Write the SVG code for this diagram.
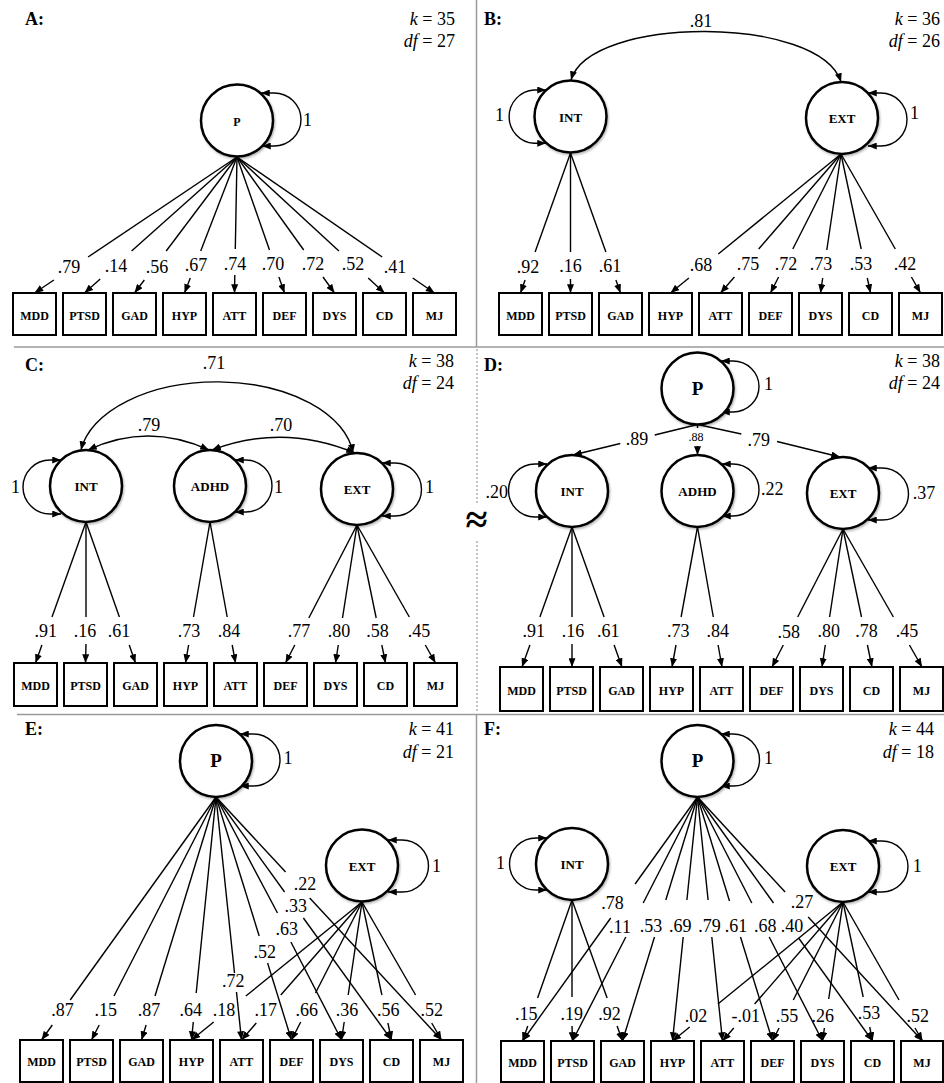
<svg xmlns="http://www.w3.org/2000/svg" width="944" height="1083" viewBox="0 0 944 1083">
<defs>
  <marker id="ah" viewBox="0 0 10 8" refX="10" refY="4" markerWidth="9" markerHeight="7" markerUnits="userSpaceOnUse" orient="auto-start-reverse">
    <path d="M0,0 L10,4 L0,8 z" fill="#000"/>
  </marker>
  <filter id="sh" x="-20%" y="-20%" width="140%" height="140%">
    <feDropShadow dx="1" dy="1.5" stdDeviation="1.2" flood-color="#000" flood-opacity="0.3"/>
  </filter>
</defs>
<style>
  .sep{stroke:#9a9a9a;stroke-width:1.5;fill:none}
  .dot{stroke:#9a9a9a;stroke-width:1.2;stroke-dasharray:2 2;fill:none}
  .lv circle{fill:#fff;stroke:#000;stroke-width:2.5;filter:url(#sh)}
  .ob rect{fill:#fff;stroke:#000;stroke-width:2}
  text{font-family:"Liberation Serif","Times New Roman",serif;fill:#000}
  .nl{font-weight:bold;font-size:13px;text-anchor:middle}
  .bl{font-weight:bold;font-size:12px;text-anchor:middle}
  .pl{font-weight:bold;font-size:19px;text-anchor:middle}
  .num{font-size:18px;text-anchor:middle}
  .st{font-size:18px}
  .en{font-size:18px;text-anchor:end}
  .sm{font-size:12px;text-anchor:middle}
  .ttl{font-weight:bold;font-size:18px}
  .fit{font-size:18px;text-anchor:end}
  .it{font-style:italic}
  .cn line,.cn path{stroke:#000;stroke-width:1.4;fill:none}
  .cn .a{marker-end:url(#ah)}
  .cn .d{marker-start:url(#ah);marker-end:url(#ah)}
</style>
<rect width="944" height="1083" fill="#fff"/>

<!-- panel separators -->
<g id="separators">
  <line class="sep" x1="476.5" y1="0" x2="476.5" y2="347"/>
  <line class="sep" x1="14" y1="347" x2="944" y2="347"/>
  <line class="dot" x1="477" y1="349" x2="477" y2="505"/>
  <line class="dot" x1="477" y1="541" x2="477" y2="713"/>
  <line class="sep" x1="17" y1="714.5" x2="944" y2="714.5"/>
  <line class="sep" x1="476.5" y1="715" x2="476.5" y2="1083"/>
  <text x="476.5" y="533" font-size="40" font-weight="bold" text-anchor="middle">≈</text>
</g>

<!-- titles and fit statistics -->
<g id="titles">
  <text class="ttl" x="25" y="25">A:</text>
  <text class="fit" x="455" y="25"><tspan class="it">k</tspan> = 35</text>
  <text class="fit" x="455" y="46.5"><tspan class="it">df</tspan> = 27</text>
  <text class="ttl" x="484" y="25">B:</text>
  <text class="fit" x="940" y="25"><tspan class="it">k</tspan> = 36</text>
  <text class="fit" x="940" y="46.5"><tspan class="it">df</tspan> = 26</text>
  <text class="ttl" x="25" y="371">C:</text>
  <text class="fit" x="454" y="367"><tspan class="it">k</tspan> = 38</text>
  <text class="fit" x="454" y="388.5"><tspan class="it">df</tspan> = 24</text>
  <text class="ttl" x="484" y="371">D:</text>
  <text class="fit" x="940" y="367"><tspan class="it">k</tspan> = 38</text>
  <text class="fit" x="940" y="388.5"><tspan class="it">df</tspan> = 24</text>
  <text class="ttl" x="25" y="735">E:</text>
  <text class="fit" x="454" y="735"><tspan class="it">k</tspan> = 41</text>
  <text class="fit" x="454" y="757.5"><tspan class="it">df</tspan> = 21</text>
  <text class="ttl" x="484" y="735">F:</text>
  <text class="fit" x="934" y="735"><tspan class="it">k</tspan> = 44</text>
  <text class="fit" x="934" y="758"><tspan class="it">df</tspan> = 18</text>
</g>

<!-- connectors: loadings, covariances and variances -->
<g id="connectors" class="cn">
  <g id="conn-a">
    <path class="d" d="M261 93 L274 93 A27 26.5 0 0 1 274 146 L262 146"/>
    <line x1="237" y1="157" x2="88.1" y2="257"/><line class="a" x1="53.9" y1="280" x2="34.5" y2="293"/>
    <line x1="237" y1="157" x2="131.6" y2="251"/><line class="a" x1="100.2" y1="279" x2="84.5" y2="293"/>
    <line x1="237" y1="157" x2="166.2" y2="251"/><line class="a" x1="144.3" y1="280" x2="134.5" y2="293"/>
    <line x1="237" y1="157" x2="200.7" y2="251"/><line class="a" x1="190.3" y1="278" x2="184.5" y2="293"/>
    <line x1="237" y1="157" x2="235.3" y2="249"/><line class="a" x1="234.8" y1="275" x2="234.5" y2="293"/>
    <line x1="237" y1="157" x2="269.5" y2="250"/><line class="a" x1="278.9" y1="277" x2="284.5" y2="293"/>
    <line x1="237" y1="157" x2="303.7" y2="250"/><line class="a" x1="323" y1="277" x2="334.5" y2="293"/>
    <line x1="237" y1="157" x2="338.9" y2="251"/><line class="a" x1="368.2" y1="278" x2="384.5" y2="293"/>
    <line x1="237" y1="157" x2="382.2" y2="257"/><line class="a" x1="412.7" y1="278" x2="434.5" y2="293"/>
  </g>
  <g id="conn-b">
    <path class="d" d="M571 80 C590 15 820 15 841 82"/>
    <path class="d" d="M546 90 L534 90 A26.5 26.7 0 0 0 534 143.3 L546 143.3"/>
    <path class="d" d="M868 93 L881 93 A26 26.5 0 0 1 881 146 L868 146"/>
    <line x1="570.5" y1="153" x2="535.1" y2="252"/><line class="a" x1="525.1" y1="280" x2="520.5" y2="293"/>
    <line x1="570.5" y1="153" x2="570.5" y2="252"/><line class="a" x1="570.5" y1="279" x2="570.5" y2="293"/>
    <line x1="570.5" y1="153" x2="605.9" y2="252"/><line class="a" x1="615.9" y1="280" x2="620.5" y2="293"/>
    <line x1="841" y1="154" x2="718.3" y2="254"/><line class="a" x1="688.9" y1="278" x2="670.5" y2="293"/>
    <line x1="841" y1="154" x2="758.7" y2="249"/><line class="a" x1="734.4" y1="277" x2="720.5" y2="293"/>
    <line x1="841" y1="154" x2="792.8" y2="249"/><line class="a" x1="778.6" y1="277" x2="770.5" y2="293"/>
    <line x1="841" y1="154" x2="826.8" y2="250"/><line class="a" x1="822.7" y1="278" x2="820.5" y2="293"/>
    <line x1="841" y1="154" x2="861.2" y2="249"/><line class="a" x1="867.3" y1="278" x2="870.5" y2="293"/>
    <line x1="841" y1="154" x2="895.3" y2="249"/><line class="a" x1="911.4" y1="277" x2="920.5" y2="293"/>
  </g>
  <g id="conn-c">
    <path class="d" d="M81 450 A137 79 0 0 1 353 453"/>
    <path class="d" d="M88 450 Q148 422 209 450"/>
    <path class="d" d="M212 450 Q283 423 355 453"/>
    <path class="d" d="M61 460 L50 460 A27 27 0 0 0 50 514 L61 514"/>
    <path class="d" d="M235 460 L246 460 A26 26 0 0 1 246 512 L235 512"/>
    <path class="d" d="M382 463 L395 463 A26.5 26.5 0 0 1 395 516 L382 516"/>
    <line x1="86" y1="522" x2="52" y2="617"/><line class="a" x1="41.9" y1="645" x2="35.5" y2="663"/>
    <line x1="86" y1="522" x2="86" y2="617"/><line class="a" x1="86" y1="644" x2="85.5" y2="663"/>
    <line x1="86" y1="522" x2="119.4" y2="617"/><line class="a" x1="129.2" y1="645" x2="135.5" y2="663"/>
    <line x1="210" y1="522" x2="193.5" y2="617"/><line class="a" x1="188.6" y1="645" x2="185.5" y2="663"/>
    <line x1="210" y1="522" x2="227.2" y2="617"/><line class="a" x1="232.2" y1="645" x2="235.5" y2="663"/>
    <line x1="357" y1="525" x2="308.8" y2="618"/><line class="a" x1="294.8" y1="645" x2="285.5" y2="663"/>
    <line x1="357" y1="525" x2="342.5" y2="618"/><line class="a" x1="338.3" y1="645" x2="335.5" y2="663"/>
    <line x1="357" y1="525" x2="376.2" y2="618"/><line class="a" x1="381.8" y1="645" x2="385.5" y2="663"/>
    <line x1="357" y1="525" x2="409.3" y2="617"/><line class="a" x1="425.3" y1="645" x2="435.5" y2="663"/>
  </g>
  <g id="conn-d">
    <path class="d" d="M721 361 L733 361 A26 25.5 0 0 1 733 412 L721 412"/>
    <path class="d" d="M547 464 L535 464 A26.5 26.5 0 0 0 535 517 L547 517"/>
    <path class="d" d="M722 464 L733 464 A26 26 0 0 1 733 516 L722 516"/>
    <path class="d" d="M868 468 L882 468 A26.5 26 0 0 1 882 520 L868 520"/>
    <line x1="697.5" y1="424.5" x2="654.7" y2="435"/><line class="a" x1="620.3" y1="443.5" x2="573" y2="455"/>
    <line x1="697.5" y1="424.5" x2="697.5" y2="428"/><line class="a" x1="697.5" y1="446" x2="697.5" y2="455"/>
    <line x1="697.5" y1="424.5" x2="741.3" y2="434"/><line class="a" x1="777" y1="441.5" x2="840" y2="457"/>
    <line x1="572" y1="527" x2="539.9" y2="617"/><line class="a" x1="529.9" y1="645" x2="522" y2="667"/>
    <line x1="572" y1="527" x2="572" y2="617"/><line class="a" x1="572" y1="644" x2="572" y2="667"/>
    <line x1="572" y1="527" x2="604.1" y2="617"/><line class="a" x1="614.1" y1="645" x2="622" y2="667"/>
    <line x1="697.5" y1="527" x2="681.1" y2="617"/><line class="a" x1="676" y1="645" x2="672" y2="667"/>
    <line x1="697.5" y1="527" x2="713.3" y2="617"/><line class="a" x1="718.1" y1="645" x2="722" y2="667"/>
    <line x1="843" y1="529" x2="797.7" y2="617"/><line class="a" x1="783.3" y1="645" x2="772" y2="667"/>
    <line x1="843" y1="529" x2="829.6" y2="617"/><line class="a" x1="825.3" y1="645" x2="822" y2="667"/>
    <line x1="843" y1="529" x2="861.5" y2="617"/><line class="a" x1="867.4" y1="645" x2="872" y2="667"/>
    <line x1="843" y1="529" x2="893.4" y2="617"/><line class="a" x1="909.4" y1="645" x2="922" y2="667"/>
  </g>
  <g id="conn-e">
    <path class="d" d="M240 734 L253 734 A27 26 0 0 1 253 786 L240 786"/>
    <path class="d" d="M388 840 L402 840 A26.5 26 0 0 1 402 892 L388 892"/>
    <line x1="216" y1="797" x2="70.2" y2="1000"/><line class="a" x1="52.3" y1="1025" x2="41.5" y2="1040"/>
    <line x1="216" y1="797" x2="114" y2="996"/><line class="a" x1="99.2" y1="1025" x2="91.5" y2="1040"/>
    <line x1="216" y1="797" x2="155" y2="996"/><line class="a" x1="146.1" y1="1025" x2="141.5" y2="1040"/>
    <line x1="216" y1="797" x2="196.2" y2="993"/><line class="a" x1="193.3" y1="1022" x2="191.5" y2="1040"/>
    <line x1="216" y1="797" x2="234.5" y2="973"/><line class="a" x1="236.5" y1="992" x2="241.5" y2="1040"/>
    <line x1="216" y1="797" x2="259.2" y2="936"/><line class="a" x1="267.6" y1="963" x2="291.5" y2="1040"/>
    <line x1="216" y1="797" x2="277.5" y2="913"/><line class="a" x1="290.9" y1="942" x2="341.5" y2="1040"/>
    <line x1="216" y1="797" x2="284.6" y2="892"/><line class="a" x1="303.4" y1="918" x2="391.5" y2="1040"/>
    <line x1="216" y1="797" x2="285.6" y2="872"/><line class="a" x1="309.7" y1="898" x2="441.5" y2="1040"/>
    <line x1="362" y1="902" x2="245.9" y2="996"/><line class="a" x1="213.7" y1="1022" x2="191.5" y2="1040"/>
    <line x1="362" y1="902" x2="280.8" y2="995"/><line class="a" x1="256.3" y1="1023" x2="241.5" y2="1040"/>
    <line x1="362" y1="902" x2="315.5" y2="993"/><line class="a" x1="300.7" y1="1022" x2="291.5" y2="1040"/>
    <line x1="362" y1="902" x2="348.2" y2="995"/><line class="a" x1="344.2" y1="1022" x2="341.5" y2="1040"/>
    <line x1="362" y1="902" x2="381.9" y2="995"/><line class="a" x1="387.9" y1="1023" x2="391.5" y2="1040"/>
    <line x1="362" y1="902" x2="415.6" y2="995"/><line class="a" x1="431.7" y1="1023" x2="441.5" y2="1040"/>
  </g>
  <g id="conn-f">
    <path class="d" d="M721 734 L733 734 A26.5 26 0 0 1 733 786 L721 786"/>
    <path class="d" d="M547 838 L536 838 A26.5 26 0 0 0 536 890 L547 890"/>
    <path class="d" d="M868 841 L882 841 A26 25.5 0 0 1 882 892 L868 892"/>
    <line x1="572" y1="900" x2="537.6" y2="998"/><line class="a" x1="527.8" y1="1026" x2="522.5" y2="1041"/>
    <line x1="572" y1="900" x2="572" y2="997"/><line class="a" x1="572" y1="1026" x2="572.5" y2="1041"/>
    <line x1="572" y1="900" x2="607.1" y2="998"/><line class="a" x1="617.1" y1="1026" x2="622.5" y2="1041"/>
    <line x1="697.5" y1="797" x2="635.1" y2="884"/><line class="a" x1="610.7" y1="918" x2="522.5" y2="1041"/>
    <line x1="697.5" y1="797" x2="643.2" y2="903"/><line class="a" x1="625.8" y1="937" x2="572.5" y2="1041"/>
    <line x1="697.5" y1="797" x2="665.8" y2="900"/><line class="a" x1="654.5" y1="937" x2="622.5" y2="1041"/>
    <line x1="697.5" y1="797" x2="686.9" y2="900"/><line class="a" x1="683.2" y1="937" x2="672.5" y2="1041"/>
    <line x1="697.5" y1="797" x2="708.1" y2="900"/><line class="a" x1="711.8" y1="937" x2="722.5" y2="1041"/>
    <line x1="697.5" y1="797" x2="729.5" y2="901"/><line class="a" x1="740.5" y1="937" x2="772.5" y2="1041"/>
    <line x1="697.5" y1="797" x2="751.8" y2="903"/><line class="a" x1="769.2" y1="937" x2="822.5" y2="1041"/>
    <line x1="697.5" y1="797" x2="773.5" y2="903"/><line class="a" x1="798.6" y1="938" x2="872.5" y2="1041"/>
    <line x1="697.5" y1="797" x2="785.1" y2="892"/><line class="a" x1="808.2" y1="917" x2="922.5" y2="1041"/>
    <line x1="843" y1="902" x2="717.9" y2="1004"/><line class="a" x1="689.7" y1="1027" x2="672.5" y2="1041"/>
    <line x1="843" y1="902" x2="754.6" y2="1004"/><line class="a" x1="733.8" y1="1028" x2="722.5" y2="1041"/>
    <line x1="843" y1="902" x2="793.3" y2="1000"/><line class="a" x1="779.1" y1="1028" x2="772.5" y2="1041"/>
    <line x1="843" y1="902" x2="828.7" y2="999"/><line class="a" x1="824.4" y1="1028" x2="822.5" y2="1041"/>
    <line x1="843" y1="902" x2="863.2" y2="997"/><line class="a" x1="869.7" y1="1027" x2="872.5" y2="1041"/>
    <line x1="843" y1="902" x2="899" y2="1000"/><line class="a" x1="915" y1="1028" x2="922.5" y2="1041"/>
  </g>
</g>

<!-- connector labels -->
<g id="edge-labels">
  <g id="lab-a">
    <text class="st" x="303" y="126">1</text>
    <text class="num" x="69" y="272.5">.79</text><text class="num" x="116" y="272">.14</text>
    <text class="num" x="157" y="272.5">.56</text><text class="num" x="196" y="271">.67</text>
    <text class="num" x="235" y="270">.74</text><text class="num" x="273" y="270">.70</text>
    <text class="num" x="313" y="270">.72</text><text class="num" x="353" y="270">.52</text>
    <text class="num" x="395" y="272.5">.41</text>
  </g>
  <g id="lab-b">
    <text class="num" x="701" y="26.5">.81</text>
    <text class="en" x="504" y="120.7">1</text>
    <text class="st" x="910" y="119.3">1</text>
    <text class="num" x="528" y="272.5">.92</text><text class="num" x="570.5" y="272">.16</text>
    <text class="num" x="610" y="272">.61</text><text class="num" x="701" y="271">.68</text>
    <text class="num" x="748" y="269.5">.75</text><text class="num" x="786" y="270">.72</text>
    <text class="num" x="821" y="270">.73</text><text class="num" x="861" y="270">.53</text>
    <text class="num" x="905" y="270">.42</text>
  </g>
  <g id="lab-c">
    <text class="num" x="214" y="368.5">.71</text>
    <text class="num" x="149" y="431">.79</text>
    <text class="num" x="281" y="431">.70</text>
    <text class="en" x="20" y="492.7">1</text>
    <text class="st" x="274" y="492.7">1</text>
    <text class="st" x="425" y="492.7">1</text>
    <text class="num" x="45.8" y="637">.91</text><text class="num" x="85" y="637">.16</text>
    <text class="num" x="119" y="637">.61</text><text class="num" x="189" y="637">.73</text>
    <text class="num" x="229" y="637">.84</text><text class="num" x="299" y="637">.77</text>
    <text class="num" x="339" y="637">.80</text><text class="num" x="377.5" y="637">.58</text>
    <text class="num" x="419" y="637">.45</text>
  </g>
  <g id="lab-d">
    <text class="st" x="764" y="390">1</text>
    <text class="num" x="637" y="445">.89</text>
    <text class="sm" x="696" y="440.5">.88</text>
    <text class="num" x="758.7" y="445.7">.79</text>
    <text class="en" x="508" y="498">.20</text>
    <text class="st" x="761" y="495">.22</text>
    <text class="st" x="912.7" y="499">.37</text>
    <text class="num" x="533.7" y="637">.91</text><text class="num" x="573" y="637">.16</text>
    <text class="num" x="608.3" y="637">.61</text><text class="num" x="678.3" y="637">.73</text>
    <text class="num" x="717.8" y="637">.84</text><text class="num" x="788.7" y="637.5">.58</text>
    <text class="num" x="828.7" y="637">.80</text><text class="num" x="866.5" y="637">.78</text>
    <text class="num" x="907" y="637">.45</text>
  </g>
  <g id="lab-e">
    <text class="st" x="283.5" y="764.3">1</text>
    <text class="st" x="432" y="871.7">1</text>
    <text class="num" x="305" y="890">.22</text>
    <text class="num" x="295.8" y="912.3">.33</text>
    <text class="num" x="286.8" y="935">.63</text>
    <text class="num" x="264.7" y="958.3">.52</text>
    <text class="num" x="233.3" y="986.7">.72</text>
    <text class="num" x="62.5" y="1016">.87</text><text class="num" x="105.8" y="1016">.15</text>
    <text class="num" x="149" y="1016">.87</text><text class="num" x="190.8" y="1016">.64</text>
    <text class="num" x="224" y="1016">.18</text><text class="num" x="265.8" y="1016">.17</text>
    <text class="num" x="306.7" y="1016">.66</text><text class="num" x="347" y="1016">.36</text>
    <text class="num" x="388.3" y="1016">.56</text><text class="num" x="431.7" y="1016">.52</text>
  </g>
  <g id="lab-f">
    <text class="st" x="764" y="764">1</text>
    <text class="en" x="505" y="869.3">1</text>
    <text class="st" x="912.7" y="871.7">1</text>
    <text class="num" x="612.5" y="909">.78</text>
    <text class="num" x="802" y="908.3">.27</text>
    <text class="num" x="620" y="932.5">.11</text><text class="num" x="651" y="931.7">.53</text>
    <text class="num" x="680.3" y="931.7">.69</text><text class="num" x="709.5" y="931.7">.79</text>
    <text class="num" x="736" y="931.7">.61</text><text class="num" x="765.3" y="931.7">.68</text>
    <text class="num" x="792" y="931.7">.40</text>
    <text class="num" x="526.2" y="1020">.15</text><text class="num" x="571.7" y="1020">.19</text>
    <text class="num" x="609.5" y="1020">.92</text><text class="num" x="696" y="1021.7">.02</text>
    <text class="num" x="745.8" y="1021.7">-.01</text><text class="num" x="787" y="1021.7">.55</text>
    <text class="num" x="822.8" y="1021.7">.26</text><text class="num" x="869" y="1019">.53</text>
    <text class="num" x="917.8" y="1021.7">.52</text>
  </g>
</g>

<!-- panel A nodes -->
<g id="a-P" class="lv"><circle cx="237" cy="120.5" r="36"/><text class="bl" x="237" y="125.5">P</text></g>
<g id="a-MDD" class="ob"><rect x="13" y="293" width="43" height="42"/><text class="bl" x="34.5" y="319.5">MDD</text></g>
<g id="a-PTSD" class="ob"><rect x="63" y="293" width="43" height="42"/><text class="bl" x="84.5" y="319.5">PTSD</text></g>
<g id="a-GAD" class="ob"><rect x="113" y="293" width="43" height="42"/><text class="bl" x="134.5" y="319.5">GAD</text></g>
<g id="a-HYP" class="ob"><rect x="163" y="293" width="43" height="42"/><text class="bl" x="184.5" y="319.5">HYP</text></g>
<g id="a-ATT" class="ob"><rect x="213" y="293" width="43" height="42"/><text class="bl" x="234.5" y="319.5">ATT</text></g>
<g id="a-DEF" class="ob"><rect x="263" y="293" width="43" height="42"/><text class="bl" x="284.5" y="319.5">DEF</text></g>
<g id="a-DYS" class="ob"><rect x="313" y="293" width="43" height="42"/><text class="bl" x="334.5" y="319.5">DYS</text></g>
<g id="a-CD" class="ob"><rect x="363" y="293" width="43" height="42"/><text class="bl" x="384.5" y="319.5">CD</text></g>
<g id="a-MJ" class="ob"><rect x="413" y="293" width="43" height="42"/><text class="bl" x="434.5" y="319.5">MJ</text></g>

<!-- panel B nodes -->
<g id="b-INT" class="lv"><circle cx="570.5" cy="116.5" r="36"/><text class="nl" x="570.5" y="121.5">INT</text></g>
<g id="b-EXT" class="lv"><circle cx="842" cy="118" r="36"/><text class="nl" x="842" y="123">EXT</text></g>
<g id="b-MDD" class="ob"><rect x="499" y="293" width="43" height="42"/><text class="bl" x="520.5" y="319.5">MDD</text></g>
<g id="b-PTSD" class="ob"><rect x="549" y="293" width="43" height="42"/><text class="bl" x="570.5" y="319.5">PTSD</text></g>
<g id="b-GAD" class="ob"><rect x="599" y="293" width="43" height="42"/><text class="bl" x="620.5" y="319.5">GAD</text></g>
<g id="b-HYP" class="ob"><rect x="649" y="293" width="43" height="42"/><text class="bl" x="670.5" y="319.5">HYP</text></g>
<g id="b-ATT" class="ob"><rect x="699" y="293" width="43" height="42"/><text class="bl" x="720.5" y="319.5">ATT</text></g>
<g id="b-DEF" class="ob"><rect x="749" y="293" width="43" height="42"/><text class="bl" x="770.5" y="319.5">DEF</text></g>
<g id="b-DYS" class="ob"><rect x="799" y="293" width="43" height="42"/><text class="bl" x="820.5" y="319.5">DYS</text></g>
<g id="b-CD" class="ob"><rect x="849" y="293" width="43" height="42"/><text class="bl" x="870.5" y="319.5">CD</text></g>
<g id="b-MJ" class="ob"><rect x="899" y="293" width="43" height="42"/><text class="bl" x="920.5" y="319.5">MJ</text></g>

<!-- panel C nodes -->
<g id="c-INT" class="lv"><circle cx="86" cy="486" r="36"/><text class="nl" x="86" y="491">INT</text></g>
<g id="c-ADHD" class="lv"><circle cx="210" cy="486" r="36"/><text class="nl" x="210" y="491">ADHD</text></g>
<g id="c-EXT" class="lv"><circle cx="357" cy="489" r="36"/><text class="nl" x="357" y="494">EXT</text></g>
<g id="c-MDD" class="ob"><rect x="14" y="663" width="43" height="43"/><text class="bl" x="35.5" y="689.5">MDD</text></g>
<g id="c-PTSD" class="ob"><rect x="64" y="663" width="43" height="43"/><text class="bl" x="85.5" y="689.5">PTSD</text></g>
<g id="c-GAD" class="ob"><rect x="114" y="663" width="43" height="43"/><text class="bl" x="135.5" y="689.5">GAD</text></g>
<g id="c-HYP" class="ob"><rect x="164" y="663" width="43" height="43"/><text class="bl" x="185.5" y="689.5">HYP</text></g>
<g id="c-ATT" class="ob"><rect x="214" y="663" width="43" height="43"/><text class="bl" x="235.5" y="689.5">ATT</text></g>
<g id="c-DEF" class="ob"><rect x="264" y="663" width="43" height="43"/><text class="bl" x="285.5" y="689.5">DEF</text></g>
<g id="c-DYS" class="ob"><rect x="314" y="663" width="43" height="43"/><text class="bl" x="335.5" y="689.5">DYS</text></g>
<g id="c-CD" class="ob"><rect x="364" y="663" width="43" height="43"/><text class="bl" x="385.5" y="689.5">CD</text></g>
<g id="c-MJ" class="ob"><rect x="414" y="663" width="43" height="43"/><text class="bl" x="435.5" y="689.5">MJ</text></g>

<!-- panel D nodes -->
<g id="d-P" class="lv"><circle cx="697.5" cy="388.5" r="36"/><text class="pl" x="697.5" y="395">P</text></g>
<g id="d-INT" class="lv"><circle cx="572" cy="491" r="36"/><text class="nl" x="572" y="496">INT</text></g>
<g id="d-ADHD" class="lv"><circle cx="697.5" cy="491" r="36"/><text class="nl" x="697.5" y="496">ADHD</text></g>
<g id="d-EXT" class="lv"><circle cx="843" cy="493" r="36"/><text class="nl" x="843" y="498">EXT</text></g>
<g id="d-MDD" class="ob"><rect x="500" y="667" width="43" height="44"/><text class="bl" x="521.5" y="694.5">MDD</text></g>
<g id="d-PTSD" class="ob"><rect x="550" y="667" width="43" height="44"/><text class="bl" x="571.5" y="694.5">PTSD</text></g>
<g id="d-GAD" class="ob"><rect x="600" y="667" width="43" height="44"/><text class="bl" x="621.5" y="694.5">GAD</text></g>
<g id="d-HYP" class="ob"><rect x="650" y="667" width="43" height="44"/><text class="bl" x="671.5" y="694.5">HYP</text></g>
<g id="d-ATT" class="ob"><rect x="700" y="667" width="43" height="44"/><text class="bl" x="721.5" y="694.5">ATT</text></g>
<g id="d-DEF" class="ob"><rect x="750" y="667" width="43" height="44"/><text class="bl" x="771.5" y="694.5">DEF</text></g>
<g id="d-DYS" class="ob"><rect x="800" y="667" width="43" height="44"/><text class="bl" x="821.5" y="694.5">DYS</text></g>
<g id="d-CD" class="ob"><rect x="850" y="667" width="43" height="44"/><text class="bl" x="871.5" y="694.5">CD</text></g>
<g id="d-MJ" class="ob"><rect x="900" y="667" width="43" height="44"/><text class="bl" x="921.5" y="694.5">MJ</text></g>

<!-- panel E nodes -->
<g id="e-P" class="lv"><circle cx="216" cy="761" r="36"/><text class="pl" x="216" y="767">P</text></g>
<g id="e-EXT" class="lv"><circle cx="362" cy="865.5" r="36"/><text class="nl" x="362" y="870.5">EXT</text></g>
<g id="e-MDD" class="ob"><rect x="20" y="1040" width="43" height="42"/><text class="bl" x="41.5" y="1066">MDD</text></g>
<g id="e-PTSD" class="ob"><rect x="70" y="1040" width="43" height="42"/><text class="bl" x="91.5" y="1066">PTSD</text></g>
<g id="e-GAD" class="ob"><rect x="120" y="1040" width="43" height="42"/><text class="bl" x="141.5" y="1066">GAD</text></g>
<g id="e-HYP" class="ob"><rect x="170" y="1040" width="43" height="42"/><text class="bl" x="191.5" y="1066">HYP</text></g>
<g id="e-ATT" class="ob"><rect x="220" y="1040" width="43" height="42"/><text class="bl" x="241.5" y="1066">ATT</text></g>
<g id="e-DEF" class="ob"><rect x="270" y="1040" width="43" height="42"/><text class="bl" x="291.5" y="1066">DEF</text></g>
<g id="e-DYS" class="ob"><rect x="320" y="1040" width="43" height="42"/><text class="bl" x="341.5" y="1066">DYS</text></g>
<g id="e-CD" class="ob"><rect x="370" y="1040" width="43" height="42"/><text class="bl" x="391.5" y="1066">CD</text></g>
<g id="e-MJ" class="ob"><rect x="420" y="1040" width="43" height="42"/><text class="bl" x="441.5" y="1066">MJ</text></g>

<!-- panel F nodes -->
<g id="f-P" class="lv"><circle cx="697.5" cy="761" r="36"/><text class="pl" x="697.5" y="767">P</text></g>
<g id="f-INT" class="lv"><circle cx="572" cy="864" r="36"/><text class="nl" x="572" y="869">INT</text></g>
<g id="f-EXT" class="lv"><circle cx="843" cy="866" r="36"/><text class="nl" x="843" y="871">EXT</text></g>
<g id="f-MDD" class="ob"><rect x="501" y="1041" width="43" height="41"/><text class="bl" x="522.5" y="1067">MDD</text></g>
<g id="f-PTSD" class="ob"><rect x="551" y="1041" width="43" height="41"/><text class="bl" x="572.5" y="1067">PTSD</text></g>
<g id="f-GAD" class="ob"><rect x="601" y="1041" width="43" height="41"/><text class="bl" x="622.5" y="1067">GAD</text></g>
<g id="f-HYP" class="ob"><rect x="651" y="1041" width="43" height="41"/><text class="bl" x="672.5" y="1067">HYP</text></g>
<g id="f-ATT" class="ob"><rect x="701" y="1041" width="43" height="41"/><text class="bl" x="722.5" y="1067">ATT</text></g>
<g id="f-DEF" class="ob"><rect x="751" y="1041" width="43" height="41"/><text class="bl" x="772.5" y="1067">DEF</text></g>
<g id="f-DYS" class="ob"><rect x="801" y="1041" width="43" height="41"/><text class="bl" x="822.5" y="1067">DYS</text></g>
<g id="f-CD" class="ob"><rect x="851" y="1041" width="43" height="41"/><text class="bl" x="872.5" y="1067">CD</text></g>
<g id="f-MJ" class="ob"><rect x="901" y="1041" width="42" height="41"/><text class="bl" x="922" y="1067">MJ</text></g>
</svg>
